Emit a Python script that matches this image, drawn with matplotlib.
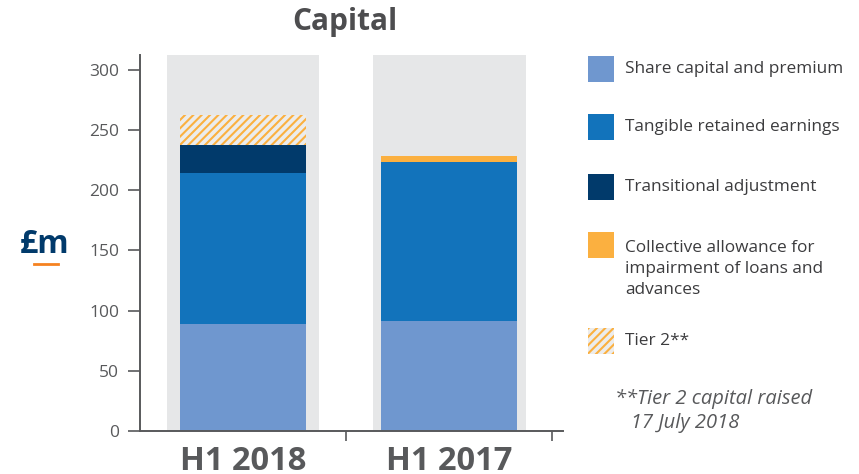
import matplotlib.pyplot as plt
from matplotlib.patches import Rectangle
import numpy as np

plt.rcParams['font.family'] = ['Open Sans', 'DejaVu Sans']
plt.rcParams['hatch.linewidth'] = 1.5

# data (GBP m)
periods = ['H1 2018', 'H1 2017']
share_capital = [89, 91]
tangible_retained = [125, 132]
transitional_adj = [23, 0]
collective_allowance = [0, 5.5]
tier2 = [25.5, 0]

series_labels = ['Share capital and premium', 'Tangible retained earnings',
                 'Transitional adjustment',
                 'Collective allowance for\nimpairment of loans and\nadvances',
                 'Tier 2**']

c_share = '#6f97cf'
c_tang = '#1273bb'
c_trans = '#013a6b'
c_coll = '#fbb040'
c_bg = '#e6e7e8'
c_text = '#58595b'

fig = plt.figure(figsize=(8.59, 4.74), dpi=100)
ax = fig.add_axes([0.163, 0.0907, 0.492, 0.793])

x = np.arange(len(periods))
widths = [0.61, 0.66]
ymax = 312

ax.bar(x, [ymax] * len(x), width=0.74, color=c_bg, zorder=0)

bottom = np.zeros(len(x))
for vals, col in [(share_capital, c_share), (tangible_retained, c_tang),
                  (transitional_adj, c_trans), (collective_allowance, c_coll)]:
    ax.bar(x, vals, width=widths, bottom=bottom, color=col, zorder=2)
    bottom += np.array(vals)
ax.bar(x, tier2, width=widths, bottom=bottom, color='#ececec',
       edgecolor=c_coll, hatch='////', linewidth=0, zorder=2)

ax.set_xlim(-0.5, 1.55)
ax.set_ylim(0, ymax)
ax.set_yticks(range(0, 301, 50))
ax.set_xticks([0.5, 1.5])
ax.set_xticklabels([])
ax.tick_params(axis='y', colors=c_text, labelsize=12.5, length=9, width=1.2,
               direction='out', pad=6)
ax.tick_params(axis='x', colors=c_text, length=7, width=1.2, direction='out')
for s in ['top', 'right']:
    ax.spines[s].set_visible(False)
for s in ['left', 'bottom']:
    ax.spines[s].set_color(c_text)
    ax.spines[s].set_linewidth(1.4)

for xi, lab in zip(x, periods):
    ax.text(xi, -12, lab, ha='center', va='top', fontsize=23.5, fontweight='bold',
            color=c_text)

fig.text(0.402, 0.953, 'Capital', ha='center', va='center', fontsize=21.5,
         fontweight='bold', color='#4d4d4f')

# unit label
fig.text(0.052, 0.484, '£m', ha='center', va='center', fontsize=23,
         fontweight='bold', color='#013a6b')
fig.add_artist(plt.Line2D([0.039, 0.068], [0.444, 0.444], color='#f58220',
                          linewidth=2, transform=fig.transFigure))

# legend
leg_colors = [c_share, c_tang, c_trans, c_coll, None]
leg_y = [405, 347, 287, 229, 133]
for lab, col, yy in zip(series_labels, leg_colors, leg_y):
    px, py = 588 / 859, (yy - 13) / 474
    if col is None:
        r = Rectangle((px, py), 26 / 859, 26 / 474, transform=fig.transFigure,
                      facecolor='#ececec', edgecolor=c_coll, hatch='////',
                      linewidth=0)
    else:
        r = Rectangle((px, py), 26 / 859, 26 / 474, transform=fig.transFigure,
                      facecolor=col, linewidth=0)
    fig.add_artist(r)
    ty = yy / 474 if '\n' not in lab else (yy + 5) / 474
    fig.text(625 / 859, ty, lab, ha='left', va='center' if '\n' not in lab else 'top',
             fontsize=12.4, color='#3c3c3e', linespacing=1.4)

fig.text(615 / 859, 63 / 474, '**Tier 2 capital raised\n   17 July 2018',
         ha='left', va='center', fontsize=14.5, style='italic', color=c_text,
         linespacing=1.3)

fig.savefig('out.png', dpi=100)
